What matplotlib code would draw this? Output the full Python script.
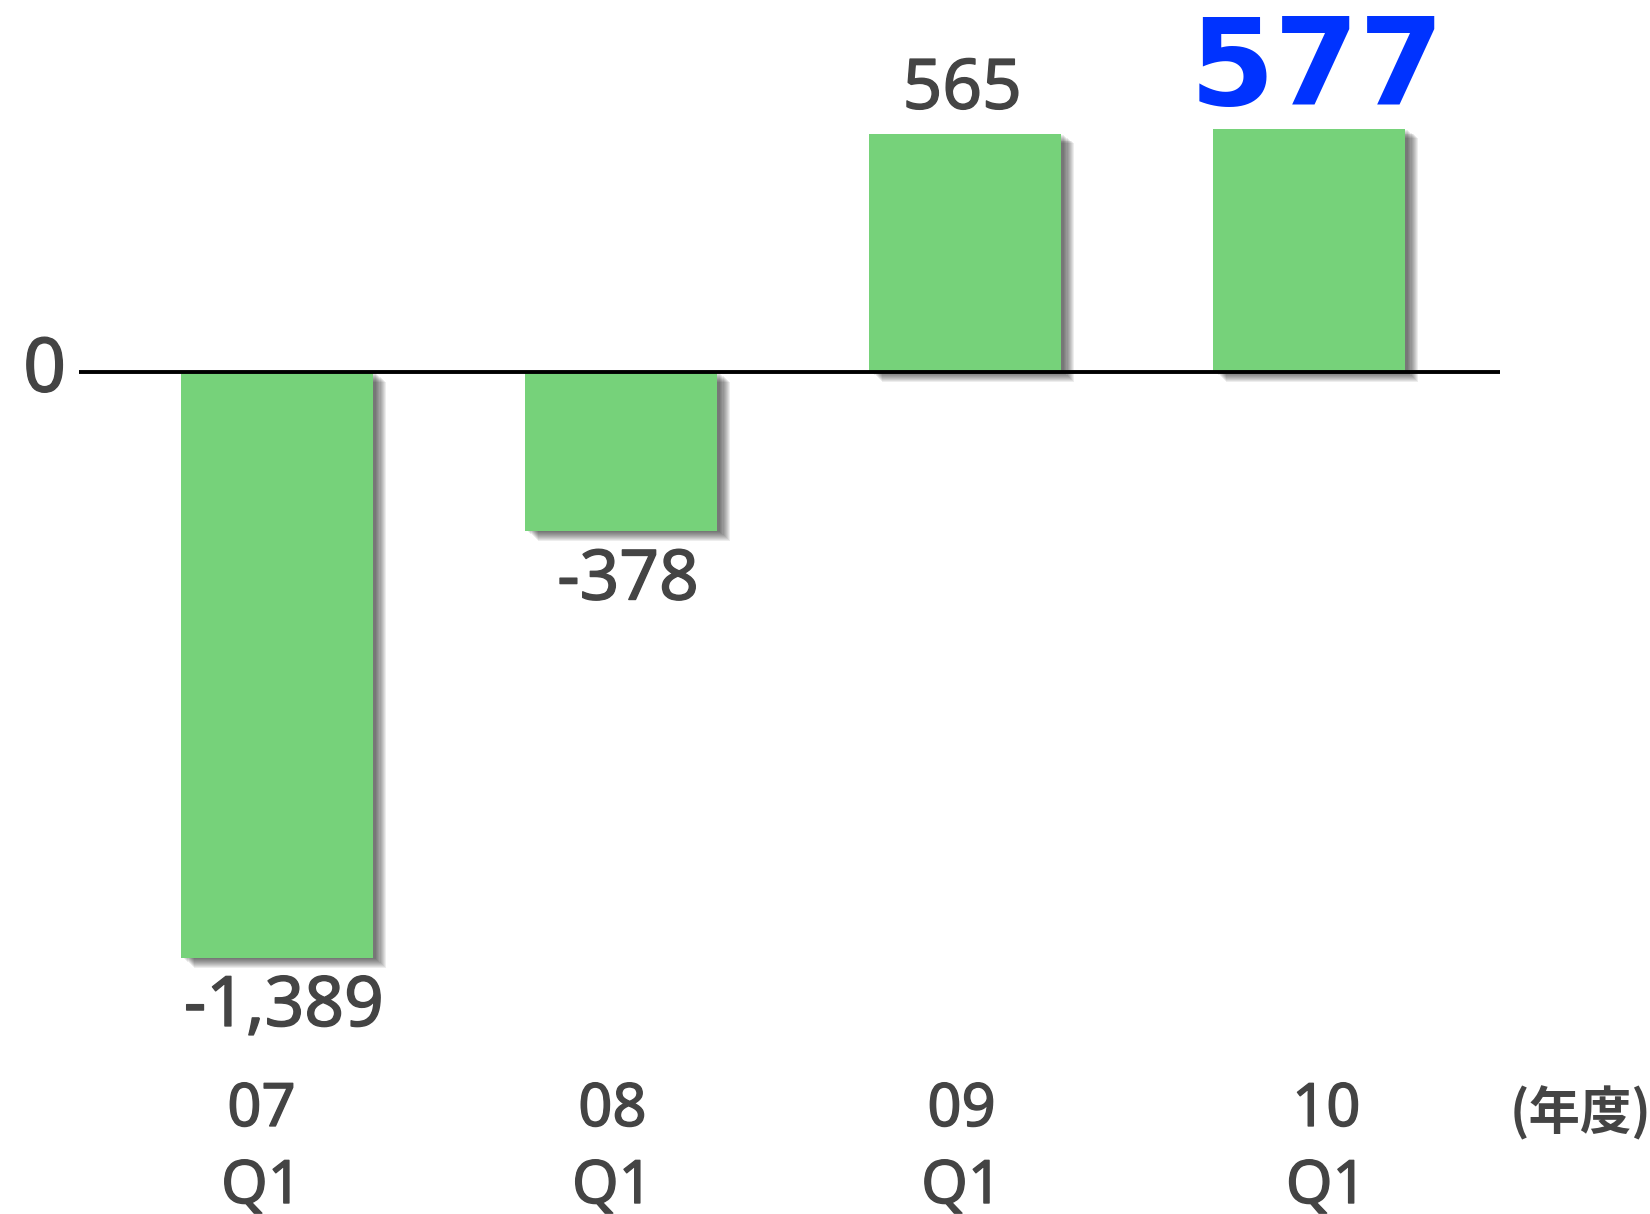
import matplotlib.pyplot as plt
import matplotlib.patheffects as pe
import matplotlib.transforms as mtransforms

# データ
years = ['07', '08', '09', '10']
quarters = ['Q1', 'Q1', 'Q1', 'Q1']
values = [-1389, -378, 565, 577]
labels = ['-1,389', '-378', '565', '577']

bar_color = '#76D27A'
text_color = '#444444'
font = 'Noto Sans'
# 少し太く見せる
thick = [pe.withStroke(linewidth=1.0, foreground=text_color)]

fig = plt.figure(figsize=(16.5, 12.14), dpi=100)
ax = fig.add_axes([0, 0, 1, 1])
ax.set_xlim(-0.805, 3.991)
ax.set_ylim(-1996, 882)
ax.axis('off')

x = list(range(len(values)))

# ぼかし影っぽく重ねる
shadow = []
for k in range(1, 11):
    shadow.append(pe.SimplePatchShadow(offset=(1.5 + k * 0.8, -k * 0.7),
                                       shadow_rgbFace='black', alpha=0.07))
shadow.append(pe.Normal())

bars = ax.bar(x, values, width=0.558, color=bar_color, zorder=2)
for b in bars:
    b.set_path_effects(shadow)

# ゼロ線
ax.plot([-0.576, 3.555], [0, 0], color='black', lw=2.8, zorder=3,
        solid_capstyle='butt')
ax.text(0.027, 0, '0', transform=mtransforms.blended_transform_factory(ax.transAxes, ax.transData),
        ha='center', va='center', fontsize=54, color=text_color, family=font,
        path_effects=thick)

# 値ラベル
for i, (v, lab) in enumerate(zip(values, labels)):
    if i == len(values) - 1:
        ax.annotate(lab, (i, v), xytext=(6, 41), textcoords='offset points',
                    ha='center', va='center', fontsize=88, fontweight='bold',
                    color='#0033FF', family='DejaVu Sans')
    elif v < 0:
        ax.annotate(lab, (i, v), xytext=(5, -36), textcoords='offset points',
                    ha='center', va='center', fontsize=50, color=text_color,
                    family=font, path_effects=thick)
    else:
        ax.annotate(lab, (i, v), xytext=(-2, 31), textcoords='offset points',
                    ha='center', va='center', fontsize=50, color=text_color,
                    family=font, path_effects=thick)

# 横軸ラベル
nudge = [-0.045, -0.025, -0.01, 0.05]
tr = mtransforms.blended_transform_factory(ax.transData, ax.transAxes)
for i, (yr, q) in enumerate(zip(years, quarters)):
    ax.text(i + nudge[i], 0.0857, yr, transform=tr, ha='center', va='center',
            fontsize=43, color=text_color, family=font, path_effects=thick)
    ax.text(i + nudge[i], 1 - 1203 / 1214, q, transform=tr, ha='center', va='baseline',
            fontsize=43, color=text_color, family=font, path_effects=thick)

ax.text(1580 / 1650, 1 - 1113 / 1214, '(年度)', transform=ax.transAxes,
        ha='center', va='center', fontsize=37, fontweight='bold', color=text_color,
        family=['Noto Sans CJK JP', 'DejaVu Sans'])

fig.savefig('out.png', dpi=100)
plt.close(fig)
